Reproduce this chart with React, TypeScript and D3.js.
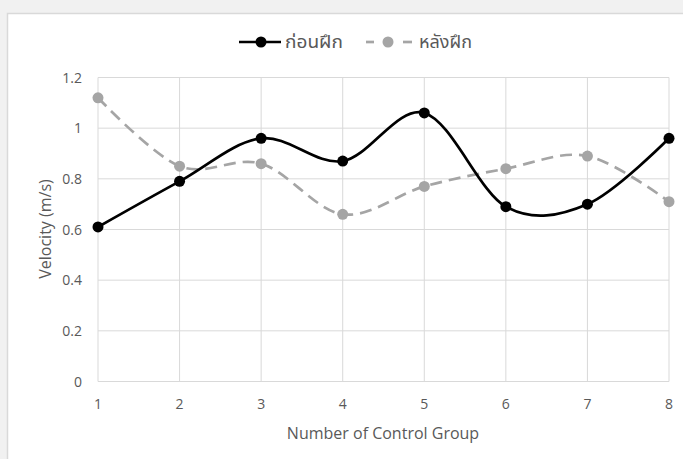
import React from "react";
import * as d3 from "d3";

const groups = [1, 2, 3, 4, 5, 6, 7, 8];
const beforeTraining = [0.61, 0.79, 0.96, 0.87, 1.06, 0.69, 0.7, 0.96];
const afterTraining = [1.12, 0.85, 0.86, 0.66, 0.77, 0.84, 0.89, 0.71];
const yTicks = [0, 0.2, 0.4, 0.6, 0.8, 1, 1.2];
const seriesNames = ["ก่อนฝึก", "หลังฝึก"];

const W = 683;
const H = 459;
const FONT = "'Open Sans', 'Noto Sans', 'Noto Sans Thai', 'Loma', 'Garuda', sans-serif";
const GRAY = "#a5a5a5";
const DASH = "12,7";

export default function App() {
  const x = d3.scaleLinear().domain([1, 8]).range([98, 669]);
  const y = d3.scaleLinear().domain([0, 1.2]).range([381.5, 77.5]);
  const line = d3
    .line<number>()
    .x((_, i) => x(groups[i]))
    .y((d) => y(d))
    .curve(d3.curveCardinal.tension(0));

  const series = [
    { name: seriesNames[0], values: beforeTraining, color: "#000000", dash: undefined as string | undefined },
    { name: seriesNames[1], values: afterTraining, color: GRAY, dash: DASH },
  ];

  return (
    <svg width={W} height={H} style={{ position: "absolute", left: 0, top: 0 }} fontFamily={FONT}>
      <rect x={0} y={0} width={W} height={H} fill="#f1f1f1" />
      <rect x={7.5} y={13.5} width={W} height={H} fill="#ffffff" stroke="#d9d9d9" strokeWidth={1.5} />

      {/* grid */}
      {yTicks.map((t) => (
        <line key={"gy" + t} x1={x(1)} x2={x(8)} y1={y(t)} y2={y(t)} stroke="#d9d9d9" strokeWidth={1} />
      ))}
      {groups.map((g) => (
        <line key={"gx" + g} x1={x(g)} x2={x(g)} y1={y(1.2)} y2={y(0)} stroke="#d9d9d9" strokeWidth={1} />
      ))}

      {/* tick labels */}
      {yTicks.map((t) => (
        <text key={"ty" + t} x={82} y={y(t) + 5} textAnchor="end" fontSize={14} fill="#595959">
          {String(t)}
        </text>
      ))}
      {groups.map((g) => (
        <text key={"tx" + g} x={x(g)} y={409} textAnchor="middle" fontSize={14} fill="#595959">
          {String(g)}
        </text>
      ))}

      {/* axis titles */}
      <text x={383} y={439} textAnchor="middle" fontSize={16} fill="#595959">
        Number of Control Group
      </text>
      <text
        transform={`translate(51,229) rotate(-90)`}
        textAnchor="middle"
        fontSize={16}
        fill="#595959"
      >
        Velocity (m/s)
      </text>

      {/* series (after drawn first, then before on top) */}
      {[series[1], series[0]].map((s) => (
        <g key={s.name}>
          <path
            d={line(s.values) || ""}
            fill="none"
            stroke={s.color}
            strokeWidth={2.7}
            strokeDasharray={s.dash}
          />
          {s.values.map((v, i) => (
            <circle key={i} cx={x(groups[i])} cy={y(v)} r={5.5} fill={s.color} />
          ))}
        </g>
      ))}

      {/* legend */}
      <g>
        <line x1={239} x2={281} y1={42} y2={42} stroke="#000" strokeWidth={2.7} />
        <circle cx={261} cy={42} r={5.5} fill="#000" />
        <text x={285} y={48} fontSize={17} fill="#595959" textLength={58} lengthAdjust="spacingAndGlyphs">
          {seriesNames[0]}
        </text>
        <line x1={366} x2={374} y1={42} y2={42} stroke={GRAY} strokeWidth={2.7} />
        <line x1={403} x2={412} y1={42} y2={42} stroke={GRAY} strokeWidth={2.7} />
        <circle cx={388} cy={42} r={5.5} fill={GRAY} />
        <text x={419} y={48} fontSize={17} fill="#595959" textLength={53} lengthAdjust="spacingAndGlyphs">
          {seriesNames[1]}
        </text>
      </g>
    </svg>
  );
}
